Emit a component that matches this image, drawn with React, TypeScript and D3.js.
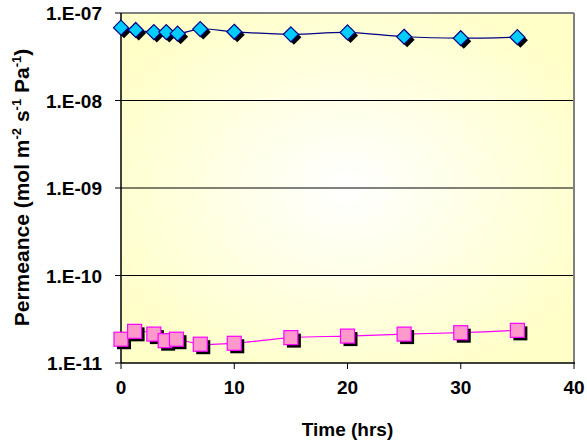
import React from "react";
import * as d3 from "d3";

const timeA = [0, 1.3, 2.9, 4, 5, 7, 10, 15, 20, 25, 30, 35];
const permA = [6.8e-8, 6.4e-8, 6.05e-8, 6.05e-8, 5.8e-8, 6.55e-8, 6.1e-8, 5.7e-8, 6.0e-8, 5.35e-8, 5.15e-8, 5.3e-8];
const timeB = [0, 1.2, 2.9, 3.9, 4.9, 7, 10, 15, 20, 25, 30, 35];
const permB = [1.87e-11, 2.3e-11, 2.14e-11, 1.8e-11, 1.87e-11, 1.64e-11, 1.68e-11, 1.95e-11, 2.03e-11, 2.14e-11, 2.22e-11, 2.36e-11];
const xTicks = [0, 10, 20, 30, 40];
const yTicks = [1e-7, 1e-8, 1e-9, 1e-10, 1e-11];
const yTickLabels = ["1.E-07", "1.E-08", "1.E-09", "1.E-10", "1.E-11"];

export default function App() {
  const W = 587, H = 446;
  const left = 121, right = 574, top = 13, bottom = 363;
  const x = d3.scaleLinear().domain([0, 40]).range([left, right]);
  const y = d3.scaleLog().domain([1e-11, 1e-7]).range([bottom, top]);
  const font = "'Liberation Sans', Arial, sans-serif";

  const line = d3.line<[number, number]>()
    .x((d) => x(d[0]))
    .y((d) => y(d[1]))
    .curve(d3.curveCatmullRom.alpha(0.5));
  const ptsA: [number, number][] = timeA.map((t, i) => [t, permA[i]]);
  const ptsB: [number, number][] = timeB.map((t, i) => [t, permB[i]]);

  const ds = 7.5; // diamond half size
  const sq = 7; // square half size
  const diamond = (cx: number, cy: number) =>
    `M${cx},${cy - ds}L${cx + ds},${cy}L${cx},${cy + ds}L${cx - ds},${cy}Z`;

  return (
    <svg width={W} height={H} style={{ position: "absolute", left: 0, top: 0, background: "#fff" }}>
      <defs>
        <radialGradient id="bg" cx="0.5" cy="0.5" r="0.6">
          <stop offset="0" stopColor="#ffffff" />
          <stop offset="1" stopColor="#ffffc8" />
        </radialGradient>
      </defs>
      <rect x={left} y={top} width={right - left} height={bottom - top} fill="url(#bg)" />
      {/* grid */}
      {yTicks.slice(1, 4).map((t) => (
        <line key={t} x1={left} x2={right} y1={y(t)} y2={y(t)} stroke="#000" strokeWidth={1} />
      ))}
      {/* top/right border */}
      <line x1={left} x2={right} y1={top} y2={top} stroke="#808080" strokeWidth={2} />
      <line x1={right} x2={right} y1={top} y2={bottom} stroke="#808080" strokeWidth={2} />
      {/* axes */}
      <line x1={left} x2={left} y1={top} y2={bottom} stroke="#000" strokeWidth={1.5} />
      <line x1={left} x2={right + 1} y1={bottom} y2={bottom} stroke="#000" strokeWidth={1.5} />
      {yTicks.map((t, i) => (
        <g key={t}>
          <line x1={left - 6} x2={left} y1={y(t)} y2={y(t)} stroke="#000" strokeWidth={1} />
          <text x={102} y={y(t) + 7} textAnchor="end" fontFamily={font} fontWeight="bold" fontSize={19} fill="#000">
            {yTickLabels[i]}
          </text>
        </g>
      ))}
      {xTicks.map((t) => (
        <g key={t}>
          <line x1={x(t)} x2={x(t)} y1={bottom} y2={bottom + 6} stroke="#000" strokeWidth={1} />
          <text x={x(t)} y={393.5} textAnchor="middle" fontFamily={font} fontWeight="bold" fontSize={19} fill="#000">
            {t}
          </text>
        </g>
      ))}
      <text x={(left + right) / 2} y={436} textAnchor="middle" fontFamily={font} fontWeight="bold" fontSize={19} fill="#000">
        Time (hrs)
      </text>
      <text
        transform={`translate(28.5,187.5) rotate(-90)`}
        textAnchor="middle"
        fontFamily={font}
        fontWeight="bold"
        fontSize={21}
        fill="#000"
      >
        Permeance (mol m
        <tspan fontSize={13} dy={-8}>-2</tspan>
        <tspan dy={8}> s</tspan>
        <tspan fontSize={13} dy={-8}>-1</tspan>
        <tspan dy={8}> Pa</tspan>
        <tspan fontSize={13} dy={-8}>-1</tspan>
        <tspan dy={8}>)</tspan>
      </text>
      {/* series lines */}
      <path d={line(ptsA) || ""} fill="none" stroke="#000080" strokeWidth={1.2} />
      <path d={line(ptsB) || ""} fill="none" stroke="#ff00ff" strokeWidth={1.2} />
      {/* markers B */}
      {ptsB.map((p, i) => (
        <g key={"b" + i}>
          <rect x={x(p[0]) - sq + 3} y={y(p[1]) - sq + 3} width={2 * sq} height={2 * sq} fill="#000" />
          <rect x={x(p[0]) - sq} y={y(p[1]) - sq} width={2 * sq} height={2 * sq} fill="#ff99cc" stroke="#ff00ff" strokeWidth={1.2} />
        </g>
      ))}
      {/* markers A */}
      {ptsA.map((p, i) => (
        <g key={"a" + i}>
          <path d={diamond(x(p[0]) + 3, y(p[1]) + 3)} fill="#000" />
          <path d={diamond(x(p[0]), y(p[1]))} fill="#00ccff" stroke="#000080" strokeWidth={1.2} />
        </g>
      ))}
    </svg>
  );
}
